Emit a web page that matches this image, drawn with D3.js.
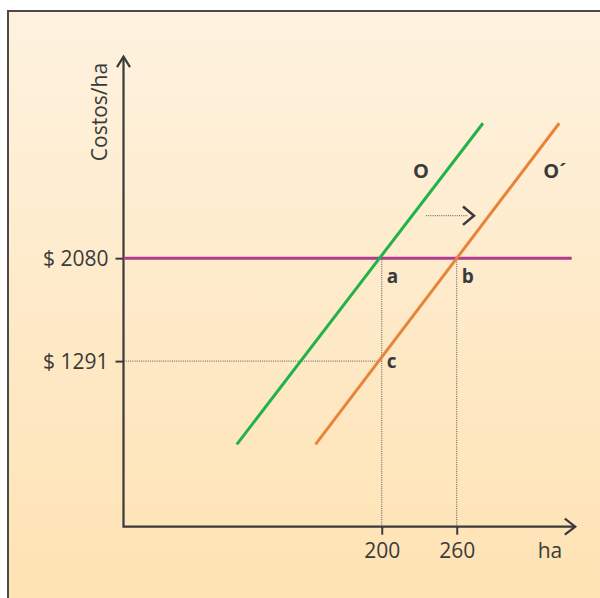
<!DOCTYPE html>
<html><head><meta charset="utf-8">
<script src="https://cdn.jsdelivr.net/npm/d3@7"></script>
<style>body{margin:0;background:#fff}svg{display:block}</style>
</head><body>
<svg id="c" width="600" height="598"></svg>
<script>
// Data
const xTicks = [200, 260];
const yTicks = [1291, 2080];
const priceLevel = 2080;
const supplyO = [{x: 84, y: 653}, {x: 281, y: 3114}];
const supplyO2 = [{x: 147, y: 653}, {x: 342, y: 3114}];
const points = [{name: "a", x: 200, y: 2080}, {name: "b", x: 260, y: 2080}, {name: "c", x: 200, y: 1291}];
const curveLabels = [{name: "O", x: 225, y: 2696}, {name: "O´", x: 329.3, y: 2696}];

const svg = d3.select("#c");
const defs = svg.append("defs");
const g = defs.append("linearGradient").attr("id", "bg").attr("x1", 0).attr("y1", 0).attr("x2", 0).attr("y2", 1);
g.append("stop").attr("offset", 0).attr("stop-color", "#fef2df");
g.append("stop").attr("offset", 1).attr("stop-color", "#fee2b2");

svg.append("rect").attr("x", 8).attr("y", 11).attr("width", 600).attr("height", 600)
  .attr("fill", "url(#bg)").attr("stroke", "#4a4a4a").attr("stroke-width", 2);

const x = d3.scaleLinear().domain([-6.7, 354.9]).range([123.5, 575.3]);
const y = d3.scaleLinear().domain([22, 3624]).range([526.7, 56.7]);
const font = "'Open Sans', sans-serif";
const ink = "#3a3a3a";

// dotted guides
const dot = {stroke: "#555", "stroke-width": 1, "stroke-dasharray": "1,1.2"};
function dl(x1, y1, x2, y2) {
  const l = svg.append("line").attr("x1", x1).attr("y1", y1).attr("x2", x2).attr("y2", y2);
  Object.entries(dot).forEach(([k, v]) => l.attr(k, v));
}
dl(x(200), y.range()[0], x(200), y(2080));
dl(x(260), y.range()[0], x(260), y(2080));
dl(x.range()[0], y(1291), x(200), y(1291));

// axes
const yAxis = d3.axisLeft(y).tickValues(yTicks).tickFormat(d => "$ " + d).tickSize(8).tickPadding(6);
const ya = svg.append("g").attr("transform", `translate(${x.range()[0]},0)`).call(yAxis);
const xAxis = d3.axisBottom(x).tickValues(xTicks).tickFormat(d => d).tickSize(8).tickPadding(5);
const xa = svg.append("g").attr("transform", `translate(0,${y.range()[0]})`).call(xAxis);
[ya, xa].forEach(a => {
  a.select(".domain").remove();
  a.attr("font-size", null).attr("font-family", null);
  a.selectAll(".tick line").attr("stroke", ink).attr("stroke-width", 2);
  a.selectAll(".tick text").attr("fill", ink).style("font-family", font).style("font-size", "21px");
});
ya.selectAll(".tick text").attr("dy", "0.36em").attr("x", -15);
xa.selectAll(".tick text").attr("dy", 0).attr("y", 31.3);

// axis lines with arrows
const x0 = x.range()[0], y0 = y.range()[0], xt = x.range()[1], yt = y.range()[1];
svg.append("path").attr("d", `M${x0},${yt} V${y0} H${xt}`).attr("fill", "none").attr("stroke", ink).attr("stroke-width", 2.2);
svg.append("path").attr("d", `M${x0-6.5},${yt+10.5} L${x0},${yt} L${x0+6.5},${yt+10.5}`).attr("fill", "none").attr("stroke", ink).attr("stroke-width", 2.2);
svg.append("path").attr("d", `M${xt-10.5},${y0-8} L${xt},${y0} L${xt-10.5},${y0+8}`).attr("fill", "none").attr("stroke", ink).attr("stroke-width", 2.2);

// price line
svg.append("line").attr("x1", x0).attr("x2", 571.7).attr("y1", y(priceLevel)).attr("y2", y(priceLevel))
  .attr("stroke", "#b03a8e").attr("stroke-width", 3);

// supply curves
const line = d3.line().x(d => x(d.x)).y(d => y(d.y));
svg.append("path").datum(supplyO).attr("d", line).attr("stroke", "#21b24b").attr("stroke-width", 3).attr("fill", "none");
svg.append("path").datum(supplyO2).attr("d", line).attr("stroke", "#e8843a").attr("stroke-width", 3).attr("fill", "none");

// shift arrow
svg.append("line").attr("x1", 426).attr("x2", 468).attr("y1", 215.7).attr("y2", 215.7)
  .attr("stroke", "#555").attr("stroke-width", 1).attr("stroke-dasharray", "1,1.2");
svg.append("path").attr("d", "M463,206.5 L474,215.7 L463,224.9").attr("fill", "none").attr("stroke", ink).attr("stroke-width", 2.5);

// labels
svg.selectAll(".pl").data(points).enter().append("text")
  .attr("x", d => x(d.x) + 5).attr("y", d => y(d.y) + (d.name === "c" ? 7 : 24.5))
  .text(d => d.name).attr("fill", ink).style("font-family", font).style("font-size", "19px").style("font-weight", "bold");
svg.selectAll(".cl").data(curveLabels).enter().append("text")
  .attr("x", d => x(d.x)).attr("y", d => y(d.y))
  .text(d => d.name).attr("fill", ink).style("font-family", font).style("font-size", "20px").style("font-weight", "bold");

svg.append("text").attr("x", 550).attr("y", 558).attr("text-anchor", "middle").text("ha")
  .attr("fill", ink).style("font-family", font).style("font-size", "21px");
svg.append("text").attr("transform", "translate(107,112) rotate(-90)").attr("text-anchor", "middle").text("Costos/ha")
  .attr("fill", ink).style("font-family", font).style("font-size", "21px");
</script>
</body></html>
